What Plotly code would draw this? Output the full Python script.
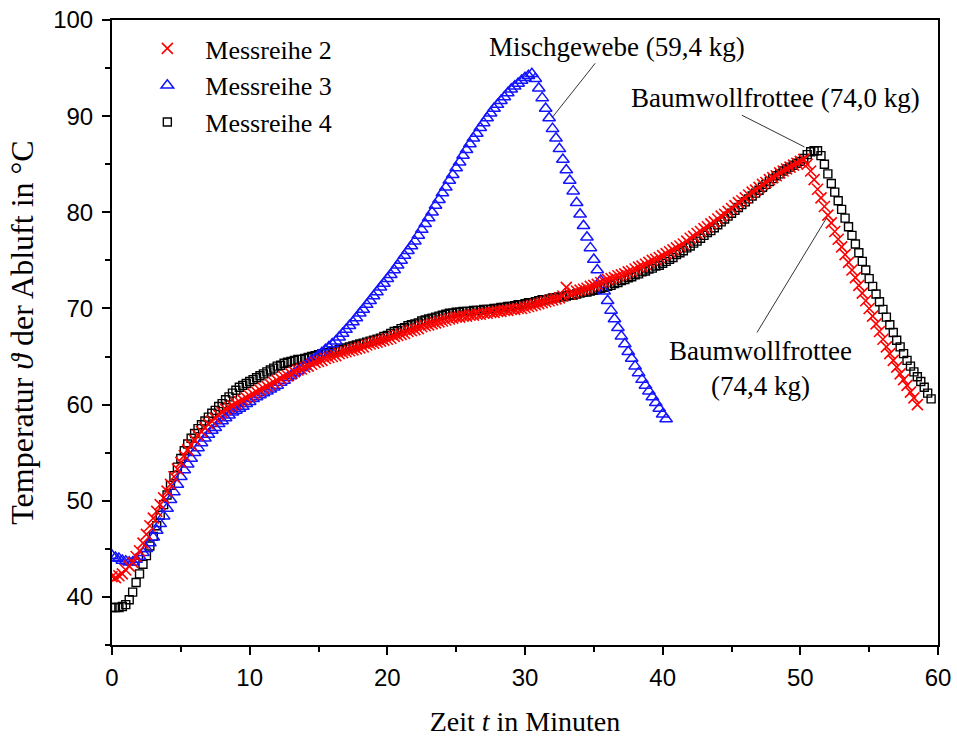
import plotly.graph_objects as go

# Abluft-Temperaturen, Messwerte alle 15 s (0,25 min)
dt = 0.25

messreihe_2 = [
    42.1, 42.0, 42.2, 42.4, 42.8, 43.2, 43.6, 44.2, 44.8, 45.6, 46.5, 47.4, 48.2, 48.9, 49.6, 50.3,
    51.0, 51.7, 52.5, 53.3, 54.0, 54.7, 55.3, 55.8, 56.3, 56.8, 57.2, 57.6, 58.0, 58.3, 58.6, 58.9,
    59.2, 59.5, 59.7, 59.9, 60.1, 60.3, 60.5, 60.7, 60.9, 61.1, 61.3, 61.5, 61.7, 61.9, 62.1, 62.3,
    62.5, 62.7, 62.9, 63.0, 63.2, 63.4, 63.6, 63.7, 63.9, 64.0, 64.2, 64.4, 64.5, 64.6, 64.8, 64.9,
    65.0, 65.1, 65.3, 65.4, 65.5, 65.6, 65.7, 65.8, 65.9, 66.0, 66.2, 66.3, 66.4, 66.5, 66.6, 66.7,
    66.8, 66.9, 67.1, 67.2, 67.3, 67.4, 67.6, 67.7, 67.8, 67.9, 68.1, 68.2, 68.3, 68.4, 68.5, 68.6,
    68.7, 68.8, 68.9, 69.0, 69.1, 69.1, 69.2, 69.2, 69.3, 69.3, 69.4, 69.4, 69.5, 69.5, 69.6, 69.6,
    69.7, 69.7, 69.8, 69.8, 69.9, 69.9, 70.0, 70.0, 70.1, 70.2, 70.3, 70.4, 70.5, 70.6, 70.7, 70.8,
    70.9, 71.0, 71.1, 71.3, 72.2, 71.5, 71.6, 71.8, 71.9, 72.0, 72.1, 72.3, 72.4, 72.5, 72.7, 72.8,
    73.0, 73.1, 73.2, 73.4, 73.5, 73.6, 73.8, 73.9, 74.1, 74.3, 74.4, 74.6, 74.8, 75.0, 75.1, 75.3,
    75.5, 75.7, 75.9, 76.1, 76.3, 76.5, 76.7, 77.0, 77.3, 77.5, 77.8, 78.0, 78.3, 78.5, 78.8, 79.0,
    79.3, 79.6, 79.8, 80.1, 80.4, 80.7, 81.0, 81.2, 81.5, 81.8, 82.1, 82.3, 82.6, 82.9, 83.1, 83.4,
    83.6, 83.8, 84.1, 84.3, 84.5, 84.7, 84.9, 85.1, 85.3, 85.5, 85.0, 84.3, 83.4, 82.4, 81.5, 80.6,
    79.7, 78.9, 78.0, 77.2, 76.4, 75.6, 74.8, 74.0, 73.2, 72.4, 71.6, 70.8, 70.0, 69.2, 68.4, 67.6,
    66.8, 66.0, 65.3, 64.6, 63.9, 63.2, 62.6, 62.0, 61.3, 60.7, 60.0,
]

messreihe_3 = [
    44.3, 44.1, 44.0, 43.8, 43.7, 43.6, 43.6, 43.9, 44.2, 44.6, 45.0, 45.6, 46.2, 46.9, 47.6, 48.4,
    49.2, 50.1, 50.9, 51.7, 52.5, 53.2, 53.8, 54.4, 55.0, 55.5, 56.0, 56.5, 56.9, 57.3, 57.6, 58.0,
    58.3, 58.6, 58.9, 59.2, 59.4, 59.6, 59.8, 60.1, 60.3, 60.6, 60.8, 61.0, 61.2, 61.4, 61.6, 61.8,
    62.0, 62.3, 62.5, 62.8, 63.0, 63.3, 63.5, 63.8, 64.0, 64.3, 64.6, 64.8, 65.1, 65.4, 65.7, 66.0,
    66.3, 66.6, 67.0, 67.4, 67.8, 68.2, 68.6, 69.0, 69.5, 69.9, 70.4, 70.8, 71.3, 71.7, 72.2, 72.6,
    73.1, 73.5, 74.0, 74.5, 75.0, 75.5, 76.0, 76.5, 77.0, 77.6, 78.2, 78.8, 79.4, 80.0, 80.7, 81.3,
    82.0, 82.6, 83.3, 83.9, 84.6, 85.2, 85.9, 86.5, 87.1, 87.7, 88.2, 88.8, 89.3, 89.8, 90.3, 90.8,
    91.2, 91.6, 92.0, 92.4, 92.8, 93.1, 93.4, 93.7, 94.0, 94.2, 94.4, 93.9, 92.9, 91.9, 90.8, 89.8,
    88.7, 87.7, 86.6, 85.5, 84.4, 83.3, 82.2, 81.0, 79.8, 78.6, 77.4, 76.3, 75.1, 74.0, 72.9, 71.8,
    70.8, 69.8, 68.9, 68.0, 67.1, 66.3, 65.5, 64.8, 64.0, 63.3, 62.6, 62.0, 61.4, 60.8, 60.2, 59.6,
    59.0, 58.5,
]

messreihe_4 = [
    38.9, 38.9, 38.9, 39.0, 39.2, 39.7, 40.5, 41.5, 42.4, 43.4, 44.3, 45.3, 46.3, 47.4, 48.5, 49.6,
    50.6, 51.6, 52.6, 53.5, 54.4, 55.2, 55.9, 56.5, 57.0, 57.5, 57.9, 58.3, 58.7, 59.1, 59.4, 59.8,
    60.1, 60.5, 60.8, 61.2, 61.5, 61.8, 62.0, 62.2, 62.4, 62.6, 62.8, 63.0, 63.2, 63.4, 63.6, 63.8,
    64.0, 64.1, 64.3, 64.4, 64.5, 64.6, 64.7, 64.7, 64.8, 64.9, 65.0, 65.1, 65.2, 65.3, 65.4, 65.4,
    65.5, 65.6, 65.7, 65.8, 65.9, 66.0, 66.1, 66.2, 66.3, 66.4, 66.5, 66.6, 66.7, 66.8, 66.9, 67.1,
    67.2, 67.4, 67.6, 67.7, 67.9, 68.0, 68.2, 68.3, 68.4, 68.5, 68.7, 68.8, 68.9, 69.0, 69.1, 69.2,
    69.3, 69.4, 69.5, 69.5, 69.6, 69.6, 69.7, 69.7, 69.7, 69.8, 69.8, 69.8, 69.9, 69.9, 69.9, 70.0,
    70.0, 70.1, 70.1, 70.2, 70.2, 70.3, 70.4, 70.4, 70.5, 70.6, 70.6, 70.7, 70.8, 70.9, 70.9, 71.0,
    71.1, 71.1, 71.2, 71.2, 71.3, 71.4, 71.4, 71.5, 71.6, 71.7, 71.7, 71.8, 71.9, 72.0, 72.1, 72.2,
    72.3, 72.4, 72.6, 72.7, 72.9, 73.0, 73.2, 73.3, 73.5, 73.6, 73.8, 73.9, 74.1, 74.2, 74.4, 74.5,
    74.7, 74.9, 75.1, 75.3, 75.6, 75.8, 76.0, 76.3, 76.5, 76.8, 77.0, 77.3, 77.6, 77.9, 78.1, 78.4,
    78.7, 79.0, 79.3, 79.6, 79.9, 80.2, 80.5, 80.8, 81.1, 81.4, 81.7, 82.0, 82.3, 82.6, 82.9, 83.2,
    83.5, 83.8, 84.0, 84.3, 84.5, 84.7, 84.9, 85.1, 85.3, 85.6, 86.0, 86.3, 86.4, 86.4, 85.9, 85.0,
    84.0, 83.0, 82.1, 81.2, 80.3, 79.4, 78.5, 77.6, 76.7, 75.8, 74.9, 74.0, 73.1, 72.3, 71.5, 70.7,
    69.9, 69.1, 68.3, 67.5, 66.7, 66.0, 65.3, 64.6, 64.0, 63.4, 62.9, 62.4, 61.8, 61.2, 60.6,
]


def zeiten(werte):
    return [i * dt for i in range(len(werte))]


serif = "Liberation Serif, Times New Roman, serif"
sans = "Liberation Sans, Arial, sans-serif"

fig = go.Figure()

fig.add_trace(go.Scatter(
    x=zeiten(messreihe_4), y=messreihe_4, mode="markers", name="Messreihe 4",
    marker=dict(symbol="square-open", size=8, color="black", line=dict(width=1.4)),
))
fig.add_trace(go.Scatter(
    x=zeiten(messreihe_3), y=messreihe_3, mode="markers", name="Messreihe 3",
    marker=dict(symbol="triangle-up-open", size=11, color="#1414ff", line=dict(width=1.5)),
))
fig.add_trace(go.Scatter(
    x=zeiten(messreihe_2), y=messreihe_2, mode="markers", name="Messreihe 2",
    marker=dict(symbol="x-thin", size=11, color="red", line=dict(width=1.6, color="red")),
))

# Beschriftung mit Hinweislinie: Text bei (tx, ty), Linie von (lx, ly) zum Punkt (x, y)
def beschriftung(text, tx, ty, lx, ly, x, y):
    fig.add_annotation(
        x=tx, y=ty, xref="x", yref="y", text=text, showarrow=False,
        font=dict(family=serif, size=27, color="black"),
    )
    fig.add_shape(
        type="line", xref="x", yref="y", x0=lx, y0=ly, x1=x, y1=y,
        line=dict(color="#333", width=1),
    )

beschriftung("Mischgewebe (59,4 kg)", 36.7, 97.2, 35.1, 95.5, 32.0, 89.9)
beschriftung("Baumwollfrottee (74,0 kg)", 48.2, 91.9, 45.75, 90.1, 50.3, 86.8)
beschriftung("Baumwollfrottee<br>(74,4 kg)", 47.1, 63.8, 46.85, 67.5, 51.9, 79.4)

achse = dict(
    showline=True, linecolor="black", linewidth=2, mirror=True,
    ticks="outside", ticklen=8, tickwidth=2, tickcolor="black",
    showgrid=False, zeroline=False, automargin=False,
    tickfont=dict(family=sans, size=24, color="black"),
    minor=dict(ticks="outside", ticklen=5, tickwidth=2, tickcolor="black", dtick=5),
)

fig.update_xaxes(
    achse, range=[0, 60], dtick=10, ticklabelstandoff=2,
    title=dict(text="Zeit <i>t</i> in Minuten", font=dict(family=serif, size=28, color="black"), standoff=22),
)
fig.update_yaxes(
    achse, range=[35, 100], tickvals=[40, 50, 60, 70, 80, 90, 100], ticklabelstandoff=4,
    title=dict(text="Temperatur <i>ϑ</i> der Abluft in °C", font=dict(family=serif, size=32, color="black"), standoff=10),
)

fig.update_layout(
    width=957, height=740,
    margin=dict(l=112, r=19, t=20, b=95),
    plot_bgcolor="white", paper_bgcolor="white",
    legend=dict(
        x=0.021, y=0.992, xanchor="left", yanchor="top", traceorder="reversed",
        font=dict(family=serif, size=26, color="black"), bgcolor="rgba(0,0,0,0)",
        itemwidth=66, tracegroupgap=0,
    ),
)

# Seite ohne Rand, damit die Grafik bei (0, 0) sitzt
fig.write_html("out.html", config={"displayModeBar": False},
               post_script="document.body.style.margin = '0';")
